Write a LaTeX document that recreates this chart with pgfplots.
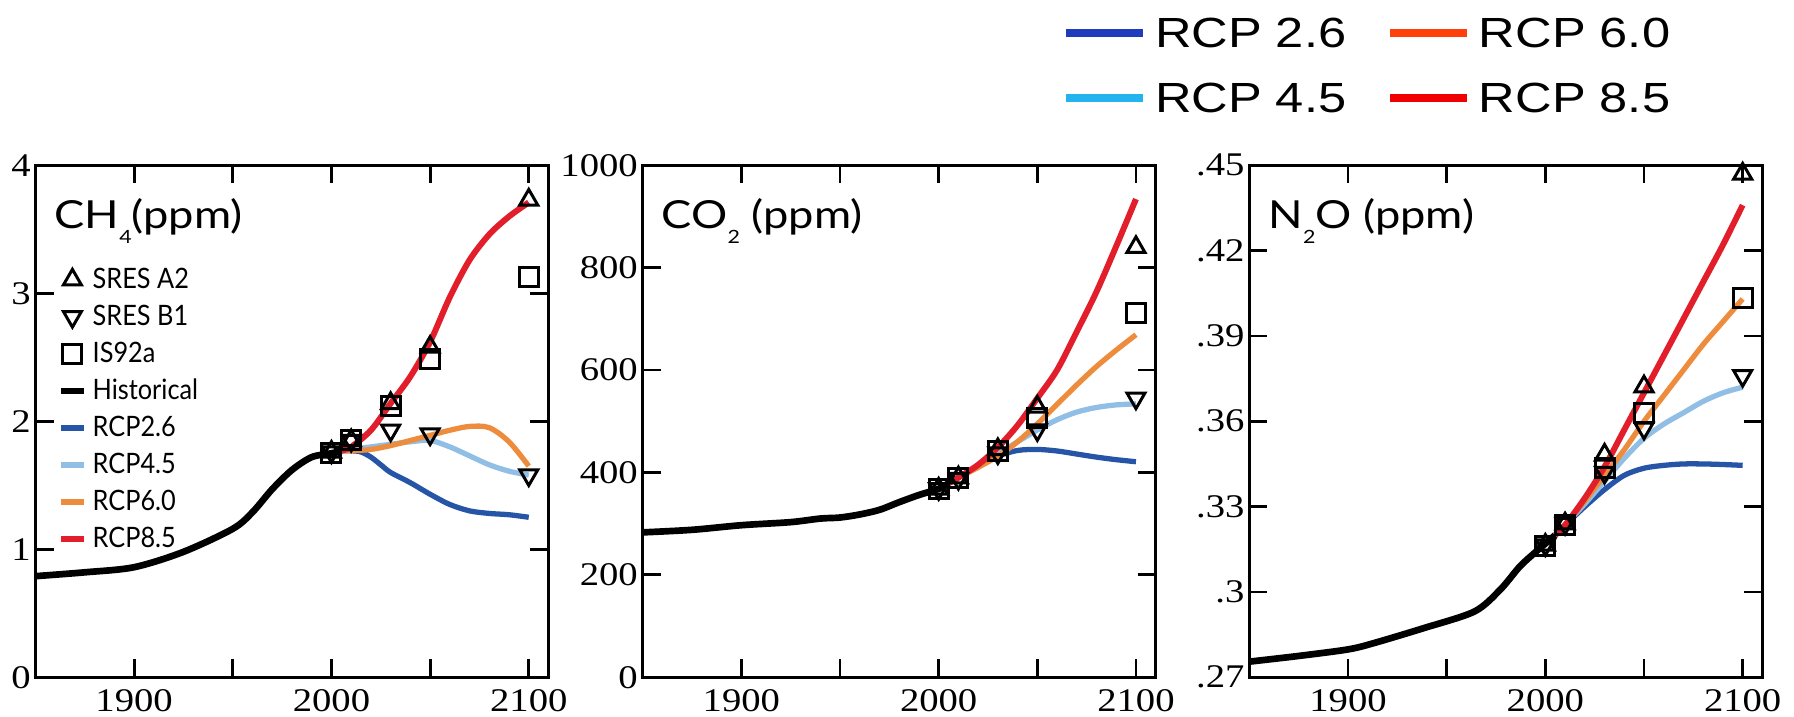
\documentclass[border=0pt]{standalone}
\usepackage{fontspec}
\setmainfont{Liberation Serif}[FakeStretch=1.17]
\newfontfamily\lblfont{Lato}[FakeStretch=1.17]
\newfontfamily\keyfont{Lato}[FakeStretch=0.9]
\newfontfamily\legfont{Liberation Sans}[FakeStretch=1.2]
\usepackage{pgfplots}
\pgfplotsset{compat=1.18}

\definecolor{rcpA}{RGB}{38,84,166}
\definecolor{rcpB}{RGB}{145,190,228}
\definecolor{rcpC}{RGB}{238,140,62}
\definecolor{rcpD}{RGB}{226,30,42}
\definecolor{legA}{RGB}{31,60,190}
\definecolor{legB}{RGB}{35,180,240}
\definecolor{legC}{RGB}{255,64,10}
\definecolor{legD}{RGB}{240,0,0}

\newcommand\sub[1]{\raisebox{-1.44mm}{\fontsize{5.2}{6}\selectfont #1}}

\pgfplotsset{
  panel/.style={
    scale only axis, width=51.3mm, height=51.2mm, anchor=south west,
    xmin=1850, xmax=2110, xtick={1900,2000,2100}, minor x tick num=1,
    tick align=inside, major tick length=1.8mm, minor tick length=1.8mm,
    tick style={black, line width=0.8pt},
    axis line style={line width=0.8pt},
    tick label style={font=\fontsize{9.4}{10}\selectfont},
    /pgf/number format/assume math mode=true,
    /pgf/number format/1000 sep={},
    yticklabel style={inner xsep=1.2pt},
    clip=false,
  },
  hist/.style={black, line width=1.9pt, smooth, forget plot},
  r26/.style={rcpA, line width=1.5pt, smooth, forget plot},
  r45/.style={rcpB, line width=1.5pt, smooth, forget plot},
  r60/.style={rcpC, line width=1.5pt, smooth, forget plot},
  r85/.style={rcpD, line width=1.7pt, smooth, forget plot},
  a2/.style={only marks, mark=triangle, mark size=1.04mm, black, mark options={line width=0.85pt}},
  b1/.style={only marks, mark=triangle, mark size=1.04mm, black, mark options={rotate=180, line width=0.85pt}},
  is92/.style={only marks, mark=square, mark size=0.95mm, black, mark options={line width=0.85pt}},
}

\begin{document}
\begin{tikzpicture}
\useasboundingbox (0,0) rectangle (179.4mm,71.7mm);

% CH4
\begin{axis}[panel, at={(3.55mm,3.97mm)},
    ymin=0, ymax=4, ytick={0,1,2,3,4},
    legend image code/.code={\draw[mark repeat=2,mark phase=2,#1] plot coordinates {(0mm,0mm) (1.15mm,0mm) (2.3mm,0mm)};},
    legend cell align=left,
    legend style={at={(axis description cs:0.042,0.814)}, anchor=north west,
      draw=none, fill=none, inner sep=0pt, row sep=0pt,
      font=\keyfont\fontsize{8}{9}\selectfont,
      nodes={inner xsep=0.4mm, inner ysep=0.4mm, text height=2.3mm, text depth=0.6mm},
      /tikz/every odd column/.append style={column sep=0.16mm}}]
\addlegendimage{a2}\addlegendentry{SRES A2}
\addlegendimage{b1}\addlegendentry{SRES B1}
\addlegendimage{is92}\addlegendentry{IS92a}
\addlegendimage{black, line width=1.8pt}\addlegendentry{Historical}
\addlegendimage{rcpA, line width=1.8pt}\addlegendentry{RCP2.6}
\addlegendimage{rcpB, line width=1.8pt}\addlegendentry{RCP4.5}
\addlegendimage{rcpC, line width=1.8pt}\addlegendentry{RCP6.0}
\addlegendimage{rcpD, line width=1.8pt}\addlegendentry{RCP8.5}
\addplot[hist] coordinates {(1850,0.79)(1875,0.82)(1900,0.86)(1925,0.98)(1950,1.16)(1960,1.29)(1970,1.47)(1980,1.62)(1990,1.72)(2000,1.75)(2005,1.77)};
\addplot[r26] coordinates {(2005,1.77)(2010,1.77)(2015,1.76)(2020,1.72)(2025,1.66)(2030,1.60)(2040,1.52)(2050,1.43)(2060,1.35)(2070,1.30)(2080,1.28)(2090,1.27)(2100,1.25)};
\addplot[r45] coordinates {(2005,1.77)(2010,1.78)(2020,1.80)(2030,1.82)(2040,1.84)(2050,1.85)(2060,1.80)(2070,1.73)(2080,1.66)(2090,1.61)(2100,1.58)};
\addplot[r60] coordinates {(2005,1.77)(2010,1.77)(2020,1.78)(2030,1.81)(2040,1.85)(2050,1.89)(2060,1.93)(2070,1.96)(2080,1.95)(2090,1.84)(2100,1.65)};
\addplot[r85] coordinates {(2005,1.77)(2010,1.80)(2020,1.93)(2030,2.14)(2040,2.35)(2050,2.62)(2060,2.97)(2070,3.26)(2080,3.46)(2090,3.60)(2100,3.71)};
\addplot[a2, forget plot] coordinates {(2000,1.76)(2010,1.85)(2030,2.14)(2050,2.58)(2100,3.73)};
\addplot[b1, forget plot] coordinates {(2000,1.76)(2010,1.85)(2030,1.93)(2050,1.90)(2100,1.58)};
\addplot[is92, forget plot] coordinates {(2000,1.75)(2010,1.85)(2030,2.12)(2050,2.49)(2100,3.13)};
\node[anchor=base west, inner sep=0pt, font=\lblfont\fontsize{11}{12}\selectfont] at (axis description cs:0.036,0.876) {CH\sub{4}(ppm)};
\end{axis}

% CO2
\begin{axis}[panel, at={(64.27mm,3.97mm)},
    ymin=0, ymax=1000, ytick={0,200,400,600,800,1000}]
\addplot[hist] coordinates {(1850,283)(1875,288)(1900,297)(1925,303)(1940,310)(1950,312)(1960,318)(1970,327)(1980,342)(1990,356)(2000,368)(2005,379)};
\addplot[r26] coordinates {(2005,379)(2010,390)(2020,412)(2030,432)(2040,443)(2050,445)(2060,442)(2070,436)(2080,430)(2090,425)(2100,421)};
\addplot[r45] coordinates {(2005,379)(2010,390)(2020,412)(2030,436)(2040,460)(2050,483)(2060,503)(2070,518)(2080,527)(2090,532)(2100,534)};
\addplot[r60] coordinates {(2005,379)(2010,390)(2020,410)(2030,432)(2040,460)(2050,495)(2060,533)(2070,571)(2080,607)(2090,639)(2100,669)};
\addplot[r85] coordinates {(2005,379)(2010,390)(2020,415)(2030,449)(2040,492)(2050,545)(2060,600)(2070,675)(2080,753)(2090,842)(2100,934)};
\addplot[a2, forget plot] coordinates {(2000,368)(2010,390)(2030,445)(2050,528)(2100,840)};
\addplot[b1, forget plot] coordinates {(2000,368)(2010,388)(2030,438)(2050,483)(2100,545)};
\addplot[is92, forget plot] coordinates {(2000,368)(2010,390)(2030,441)(2050,506)(2100,711)};
\node[anchor=base west, inner sep=0pt, font=\lblfont\fontsize{11}{12}\selectfont] at (axis description cs:0.036,0.876) {CO\sub{2} (ppm)};
\end{axis}

% N2O
\begin{axis}[panel, at={(124.94mm,3.97mm)},
    ymin=0.27, ymax=0.45, ytick={0.27,0.30,0.33,0.36,0.39,0.42,0.45},
    yticklabels={.27,.3,.33,.36,.39,.42,.45},
    legend columns=2,
    legend image code/.code={\draw[#1, line width=2.3pt] (0mm,0mm) -- (7.66mm,0mm);},
    legend style={at={(axis description cs:-0.366,1.292)}, anchor=north west,
      draw=none, fill=none, inner sep=0pt, row sep=3.2mm,
      font=\legfont\fontsize{12}{14}\selectfont,
      nodes={inner sep=0pt, text height=3.1mm, text depth=0.2mm},
      /tikz/every odd column/.append style={column sep=0.8mm},
      /tikz/every even column/.append style={column sep=4mm}}]
\addlegendimage{legA}\addlegendentry{RCP 2.6}
\addlegendimage{legC}\addlegendentry{RCP 6.0}
\addlegendimage{legB}\addlegendentry{RCP 4.5}
\addlegendimage{legD}\addlegendentry{RCP 8.5}
\addplot[hist] coordinates {(1850,0.2755)(1875,0.2775)(1900,0.2798)(1913,0.2820)(1938,0.2872)(1964,0.2931)(1977,0.3007)(1987,0.3089)(1995,0.3140)(2000,0.3170)(2005,0.3200)};
\addplot[r26] coordinates {(2005,0.3200)(2010,0.3235)(2020,0.3300)(2030,0.3360)(2040,0.3410)(2050,0.3435)(2060,0.3445)(2070,0.3450)(2080,0.3450)(2090,0.3448)(2100,0.3445)};
\addplot[r45] coordinates {(2005,0.3200)(2010,0.3235)(2020,0.3310)(2030,0.3390)(2040,0.3470)(2050,0.3540)(2060,0.3590)(2070,0.3630)(2080,0.3670)(2090,0.3700)(2100,0.3720)};
\addplot[r60] coordinates {(2005,0.3200)(2010,0.3235)(2020,0.3320)(2030,0.3410)(2040,0.3500)(2050,0.3600)(2060,0.3690)(2070,0.3780)(2080,0.3870)(2090,0.3950)(2100,0.4030)};
\addplot[r85] coordinates {(2005,0.3200)(2010,0.3235)(2020,0.3330)(2030,0.3440)(2040,0.3570)(2050,0.3700)(2060,0.3830)(2070,0.3960)(2080,0.4090)(2090,0.4220)(2100,0.4360)};
\addplot[a2, forget plot] coordinates {(2000,0.3165)(2010,0.3240)(2030,0.3482)(2050,0.3722)(2100,0.4470)};
\addplot[b1, forget plot] coordinates {(2000,0.3165)(2010,0.3240)(2030,0.3420)(2050,0.3575)(2100,0.3760)};
\addplot[is92, forget plot] coordinates {(2000,0.3160)(2010,0.3235)(2030,0.3435)(2050,0.3628)(2100,0.4035)};
\node[anchor=base west, inner sep=0pt, font=\lblfont\fontsize{11}{12}\selectfont] at (axis description cs:0.036,0.876) {N\sub{2}O (ppm)};
\end{axis}
\end{tikzpicture}
\end{document}
